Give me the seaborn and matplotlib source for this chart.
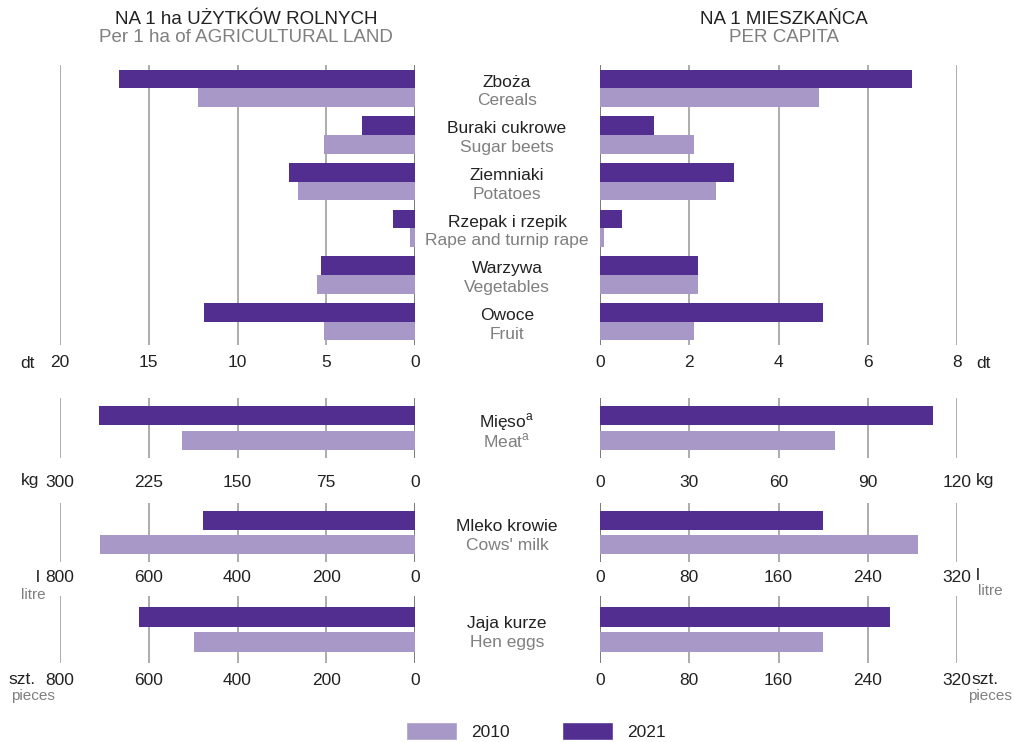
import numpy as np
import pandas as pd
import seaborn as sns
import matplotlib.pyplot as plt
from matplotlib.patches import Patch
from matplotlib.transforms import blended_transform_factory

sns.set_style('white')
plt.rcParams['font.family'] = ['Liberation Sans', 'DejaVu Sans']
plt.rcParams['mathtext.fontset'] = 'custom'
plt.rcParams['mathtext.rm'] = 'Liberation Sans'

# data
years = ['2021', '2010']
crops_pl = ['Zboża', 'Buraki cukrowe', 'Ziemniaki', 'Rzepak i rzepik', 'Warzywa', 'Owoce']
crops_en = ['Cereals', 'Sugar beets', 'Potatoes', 'Rape and turnip rape', 'Vegetables', 'Fruit']
crops_ha_2010 = [12.2, 5.1, 6.6, 0.3, 5.5, 5.1]
crops_ha_2021 = [16.7, 3.0, 7.1, 1.25, 5.3, 11.9]
crops_cap_2010 = [4.9, 2.1, 2.6, 0.1, 2.2, 2.1]
crops_cap_2021 = [7.0, 1.2, 3.0, 0.5, 2.2, 5.0]

meat_ha = {'2010': 197, '2021': 267}
meat_cap = {'2010': 79, '2021': 112}
milk_ha = {'2010': 710, '2021': 478}
milk_cap = {'2010': 285, '2021': 200}
eggs_ha = {'2010': 499, '2021': 622}
eggs_cap = {'2010': 200, '2021': 260}

crops_ha_ticks = [0, 5, 10, 15, 20]
crops_cap_ticks = [0, 2, 4, 6, 8]
meat_ha_ticks = [0, 75, 150, 225, 300]
meat_cap_ticks = [0, 30, 60, 90, 120]
milk_ha_ticks = [0, 200, 400, 600, 800]
milk_cap_ticks = [0, 80, 160, 240, 320]
eggs_ha_ticks = [0, 200, 400, 600, 800]
eggs_cap_ticks = [0, 80, 160, 240, 320]

DARK = '#512e90'
LIGHT = '#a898c7'
TXT = '#222222'
GREY = '#7f7f7f'
FS = 12.5
HFS = 13.5

W, H = 1014, 742
fig = plt.figure(figsize=(W / 100, H / 100), dpi=100)


def px_axes(x0, x1, y0, y1):
    return fig.add_axes([x0 / W, 1 - y1 / H, (x1 - x0) / W, (y1 - y0) / H])


def make_df(cats, v2010, v2021):
    rows = []
    for c, a, b in zip(cats, v2010, v2021):
        rows.append({'cat': c, 'year': '2010', 'val': a})
        rows.append({'cat': c, 'year': '2021', 'val': b})
    return pd.DataFrame(rows)


def draw(ax, df, ticks, inverted, width, gap, pad):
    sns.barplot(data=df, y='cat', x='val', hue='year', hue_order=years,
                palette={'2010': LIGHT, '2021': DARK}, orient='h', width=width,
                gap=gap, saturation=1, legend=False, ax=ax, zorder=2,
                linewidth=0, edgecolor='none')
    n = df['cat'].nunique()
    ax.set_ylim(n - 0.5, -0.5)
    if inverted:
        ax.set_xlim(ticks[-1], 0)
    else:
        ax.set_xlim(0, ticks[-1])
    for t in ticks:
        col = '#6e6e6e' if t == 0 else '#a6a6a6'
        ax.axvline(t, color=col, lw=1.3, zorder=1)
    ax.set_xticks(ticks)
    ax.set_yticks([])
    ax.set_xlabel('')
    ax.set_ylabel('')
    ax.tick_params(axis='x', length=0, pad=pad, labelsize=FS, labelcolor=TXT)
    for s in ax.spines.values():
        s.set_visible(False)
    ax.patch.set_alpha(0)


# sections: (pixel top, pixel bottom, bar width, gap, tick pad)
sections = [
    (crops_pl, crops_en, make_df(crops_pl, crops_ha_2010, crops_ha_2021),
     make_df(crops_pl, crops_cap_2010, crops_cap_2021),
     crops_ha_ticks, crops_cap_ticks, (65, 345, 0.8, 0, 7.5)),
    (['Mięso$^\\mathrm{a}$'], ['Meat$^\\mathrm{a}$'],
     make_df(['m'], [meat_ha['2010']], [meat_ha['2021']]),
     make_df(['m'], [meat_cap['2010']], [meat_cap['2021']]),
     meat_ha_ticks, meat_cap_ticks, (398, 458, 0.82, 0.22, 12)),
    (['Mleko krowie'], ["Cows' milk"],
     make_df(['m'], [milk_ha['2010']], [milk_ha['2021']]),
     make_df(['m'], [milk_cap['2010']], [milk_cap['2021']]),
     milk_ha_ticks, milk_cap_ticks, (503, 562, 0.83, 0.22, 5.5)),
    (['Jaja kurze'], ['Hen eggs'],
     make_df(['m'], [eggs_ha['2010']], [eggs_ha['2021']]),
     make_df(['m'], [eggs_cap['2010']], [eggs_cap['2021']]),
     eggs_ha_ticks, eggs_cap_ticks, (596, 663, 0.76, 0.22, 7)),
]

for pl, en, df_ha, df_cap, t_ha, t_cap, (top, bot, width, gap, pad) in sections:
    ax_l = px_axes(60, 415, top, bot)
    ax_r = px_axes(600, 957, top, bot)
    draw(ax_l, df_ha, t_ha, True, width, gap, pad)
    draw(ax_r, df_cap, t_cap, False, width, gap, pad)
    tr = blended_transform_factory(fig.transFigure, ax_r.transData)
    for i, (p, e) in enumerate(zip(pl, en)):
        ax_r.annotate(p, xy=(507 / W, i), xycoords=tr, xytext=(0, 4.5),
                      textcoords='offset points', ha='center', va='center',
                      fontsize=FS, color=TXT, annotation_clip=False)
        ax_r.annotate(e, xy=(507 / W, i), xycoords=tr, xytext=(0, -9),
                      textcoords='offset points', ha='center', va='center',
                      fontsize=FS, color=GREY, annotation_clip=False)


def ftxt(x, y, s, **kw):
    kw.setdefault('fontsize', FS)
    kw.setdefault('color', TXT)
    fig.text(x / W, 1 - y / H, s, va='center', **kw)


# headers
ftxt(246, 19, 'NA 1 ha UŻYTKÓW ROLNYCH', ha='center', fontsize=HFS)
ftxt(246, 38, 'Per 1 ha of AGRICULTURAL LAND', ha='center', fontsize=HFS, color=GREY)
ftxt(784, 19, 'NA 1 MIESZKAŃCA', ha='center', fontsize=HFS)
ftxt(784, 38, 'PER CAPITA', ha='center', fontsize=HFS, color=GREY)

# units
ftxt(27, 363, 'dt', ha='center')
ftxt(983, 363, 'dt', ha='center')
ftxt(30, 481, 'kg', ha='center')
ftxt(985, 481, 'kg', ha='center')
ftxt(38, 577, 'l', ha='center')
ftxt(33, 595, 'litre', ha='center', fontsize=11, color=GREY)
ftxt(978, 576, 'l', ha='center')
ftxt(990, 591, 'litre', ha='center', fontsize=11, color=GREY)
ftxt(22, 680, 'szt.', ha='center')
ftxt(33, 696, 'pieces', ha='center', fontsize=11, color=GREY)
ftxt(985, 680, 'szt.', ha='center')
ftxt(990, 696, 'pieces', ha='center', fontsize=11, color=GREY)

# legend
handles = [Patch(facecolor=LIGHT, label='2010'), Patch(facecolor=DARK, label='2021')]
fig.legend(handles=handles, loc='center', bbox_to_anchor=(536 / W, 1 - 731 / H),
           ncol=2, frameon=False, fontsize=FS, handlelength=2.95, handleheight=1.3,
           handletextpad=0.8, columnspacing=3.0, labelcolor=TXT)

fig.savefig('out.png', dpi=100)
